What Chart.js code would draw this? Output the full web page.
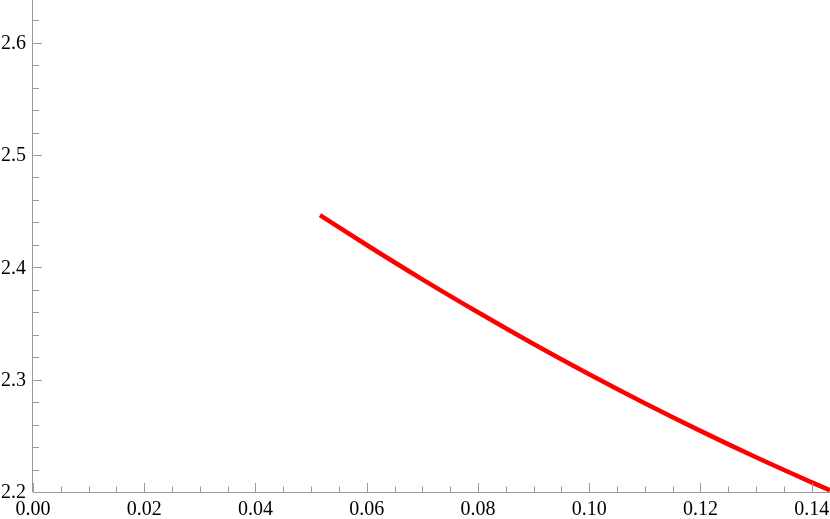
<!DOCTYPE html>
<html>
<head>
<meta charset="utf-8">
<script src="https://cdn.jsdelivr.net/npm/chart.js@4"></script>
<style>
  html, body { margin: 0; padding: 0; background: #fff; }
  #wrap { width: 830px; height: 519px; font-family: "Liberation Serif", "Times New Roman", serif; }
</style>
</head>
<body>
<div id="wrap"><canvas id="myChart" width="830" height="519"></canvas></div>
<script>
"use strict"

// curve
const curveX = [0.0516, 0.0600, 0.0700, 0.0800, 0.0900, 0.1000, 0.1100, 0.1200, 0.1300, 0.1400, 0.1433];
const curveY = [2.4464, 2.4199, 2.3893, 2.3600, 2.3318, 2.3048, 2.2790, 2.2544, 2.2309, 2.2086, 2.2015];

const xMajorTicks = [0.00, 0.02, 0.04, 0.06, 0.08, 0.10, 0.12, 0.14];
const xTickLabels = ["0.00", "0.02", "0.04", "0.06", "0.08", "0.10", "0.12", "0.14"];
const yMajorTicks = [2.2, 2.3, 2.4, 2.5, 2.6];
const yTickLabels = ["2.2", "2.3", "2.4", "2.5", "2.6"];

const xMin = 0, xMax = 0.1433;
const yMin = 2.2, yMax = 2.638;
const xMinorStep = 0.005;
const yMinorStep = 0.02;

const axisColor = '#999999';
const labelFont = '20px "Liberation Serif", "Times New Roman", Times, serif';

// Mathematica-style frame: axes with inward ticks
const axesPlugin = {
  id: 'mmaAxes',
  afterDraw(chart) {
    const ctx = chart.ctx;
    const xs = chart.scales.x;
    const ys = chart.scales.y;
    const x0 = xs.getPixelForValue(xMin);
    const y0 = ys.getPixelForValue(yMin);
    ctx.save();
    ctx.strokeStyle = axisColor;
    ctx.lineWidth = 1;

    ctx.beginPath();
    ctx.moveTo(x0, y0 + 0.5);
    ctx.lineTo(chart.width, y0 + 0.5);
    ctx.moveTo(x0 - 0.5, y0);
    ctx.lineTo(x0 - 0.5, 0);
    ctx.stroke();

    ctx.beginPath();
    for (let v = 0; v <= xMax + 1e-9; v += xMinorStep) {
      const isMajor = Math.abs(v / 0.02 - Math.round(v / 0.02)) < 1e-6;
      const px = Math.round(xs.getPixelForValue(v)) + 0.5;
      ctx.moveTo(px, y0);
      ctx.lineTo(px, y0 - (isMajor ? 9 : 5.5));
    }
    for (let v = yMin; v <= yMax + 1e-9; v += yMinorStep) {
      const isMajor = Math.abs(v * 10 - Math.round(v * 10)) < 1e-6;
      const py = Math.round(ys.getPixelForValue(v)) + 0.5;
      ctx.moveTo(x0, py);
      ctx.lineTo(x0 + (isMajor ? 9 : 6), py);
    }
    ctx.stroke();

    ctx.fillStyle = '#000';
    ctx.font = labelFont;
    ctx.textAlign = 'center';
    ctx.textBaseline = 'alphabetic';
    xMajorTicks.forEach((v, i) => {
      ctx.fillText(xTickLabels[i], xs.getPixelForValue(v), y0 + 23);
    });
    ctx.textAlign = 'right';
    ctx.textBaseline = 'middle';
    yMajorTicks.forEach((v, i) => {
      ctx.fillText(yTickLabels[i], x0 - 7, ys.getPixelForValue(v) + 1);
    });
    ctx.restore();
  }
};

const points = curveX.map((x, i) => ({ x: x, y: curveY[i] }));

const ctx = document.getElementById('myChart').getContext('2d');
const myChart = new Chart(ctx, {
  type: 'scatter',
  data: {
    datasets: [{
      data: points,
      showLine: true,
      borderColor: '#ff0000',
      borderWidth: 4.5,
      pointRadius: 0,
      cubicInterpolationMode: 'monotone',
      fill: false
    }]
  },
  options: {
    responsive: false,
    animation: false,
    events: [],
    layout: { padding: { left: 33, bottom: 27, top: 0, right: 0 } },
    plugins: { legend: { display: false }, tooltip: { enabled: false } },
    scales: {
      x: { type: 'linear', min: xMin, max: xMax, display: false },
      y: { type: 'linear', min: yMin, max: yMax, display: false }
    }
  },
  plugins: [axesPlugin]
});
</script>
</body>
</html>
